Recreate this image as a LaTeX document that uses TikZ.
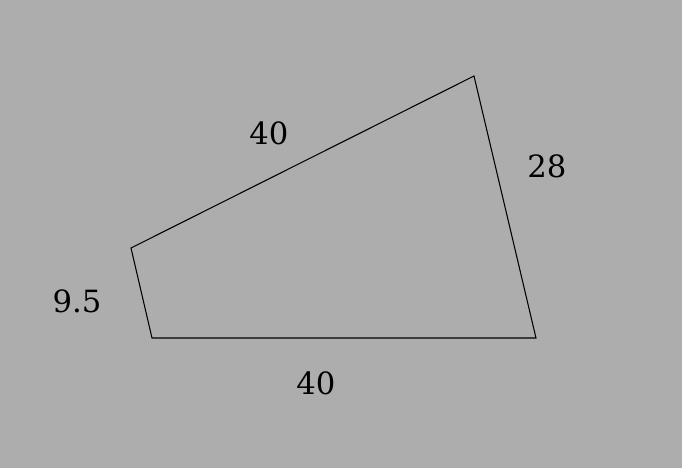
\documentclass[tikz,border=0pt]{standalone}
\usepackage{fontspec}
\setmainfont{DejaVu Serif}
\definecolor{bggray}{RGB}{173,173,173}
\begin{document}
\begin{tikzpicture}[x=0.75pt, y=-0.75pt,
    side/.style={draw=black, line width=0.8pt},
    len/.style={font=\fontsize{23}{26}\selectfont, text=black}]

  \fill[bggray] (0,0) rectangle (682,468);
  \useasboundingbox (0,0) rectangle (682,468);

  \coordinate (a) at (131,248);
  \coordinate (b) at (474,76);
  \coordinate (c) at (536,338);
  \coordinate (d) at (152,338);

  \draw[side] (a) -- (b) -- (c) -- (d) -- cycle;

  \node[len] (top)    at (269,133) {40};
  \node[len] (right)  at (547,166) {28};
  \node[len] (left)   at (77,301)  {9.5};
  \node[len] (bottom) at (316,383) {40};
\end{tikzpicture}
\end{document}
